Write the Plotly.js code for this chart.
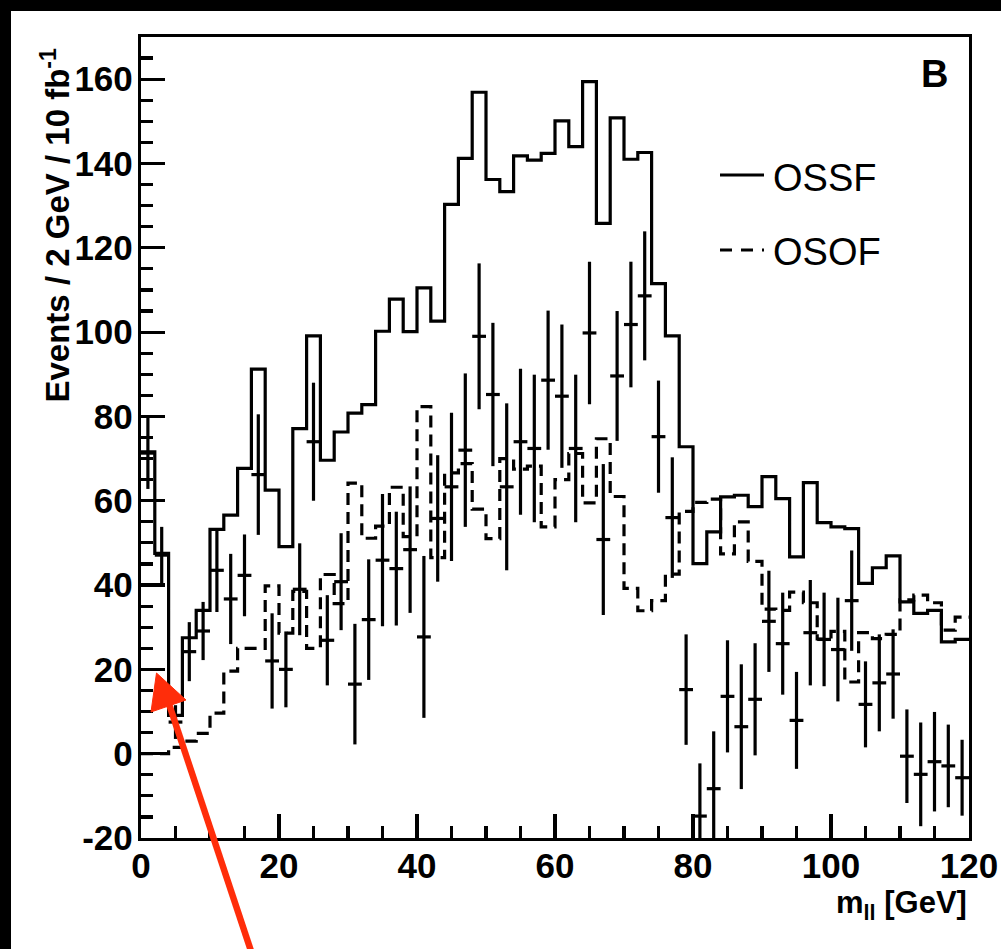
<!DOCTYPE html>
<html>
<head>
<meta charset="utf-8">
<script src="https://cdn.plot.ly/plotly-3.0.1.min.js"></script>
<style>
  html, body { margin: 0; padding: 0; background: #000; width: 1001px; height: 949px; overflow: hidden; }
  #chart { position: absolute; left: 11px; top: 11px; width: 990px; height: 938px; background: #fff; }
</style>
</head>
<body>
<div id="chart"></div>
<script>
// ---- data ----
// 60 bins of 2 GeV from 0 to 120 GeV
const binWidth = 2;
const nBins = 60;
const binCenters = Array.from({length: nBins}, (_, i) => binWidth * i + binWidth / 2);
const binLowEdges = Array.from({length: nBins}, (_, i) => binWidth * i);

// OSSF histogram (solid)
const ossf = [71.6, 47.5, 9.1, 27.5, 34.0, 53.2, 56.6, 67.7, 91.2, 62.5,
              49.1, 77.1, 99.1, 69.6, 76.3, 80.8, 82.8, 100.2, 107.8, 100.1,
              110.5, 102.6, 130.3, 141.2, 156.9, 136.2, 133.3, 141.8, 140.8, 142.4,
              150.1, 144.0, 159.4, 125.8, 150.8, 141.0, 142.6, 111.5, 99.1, 72.8,
              45.1, 52.6, 60.9, 61.3, 58.6, 65.7, 60.5, 46.7, 64.3, 54.8,
              53.8, 53.4, 40.4, 44.1, 46.9, 36.0, 33.3, 34.0, 26.5, 27.1];

// OSOF histogram (dashed)
const osof = [0.0, 0.0, 1.5, 3.0, 4.8, 9.6, 19.6, 25.0, 25.0, 39.8,
              28.6, 38.5, 25.0, 42.5, 35.6, 64.2, 51.1, 54.0, 63.2, 51.5,
              82.3, 46.5, 66.6, 68.8, 58.0, 51.0, 70.0, 67.5, 68.2, 53.8,
              65.0, 71.2, 59.5, 74.7, 61.0, 39.2, 33.9, 36.3, 42.6, 57.5,
              59.6, 60.4, 47.4, 55.0, 45.6, 34.3, 34.0, 38.3, 35.8, 27.2,
              29.0, 17.0, 28.7, 27.3, 28.3, 36.5, 37.6, 35.8, 29.3, 32.4];

// OSSF - OSOF points with errors
const diff = [71.3, 47.1, 7.5, 24.2, 29.1, 43.5, 36.7, 42.3, 66.2, 22.0,
              20.0, 39.0, 74.0, 26.9, 40.8, 16.5, 31.8, 45.9, 43.9, 48.4,
              27.7, 55.8, 63.3, 72.0, 99.0, 85.2, 63.3, 74.0, 72.4, 88.6,
              84.8, 72.4, 99.8, 50.8, 89.6, 101.8, 108.6, 75.2, 56.0, 15.2,
              -14.8, -8.3, 13.6, 6.4, 12.9, 31.4, 26.1, 7.9, 28.7, 27.1,
              24.7, 36.3, 11.7, 16.8, 18.9, -0.6, -4.9, -1.9, -2.9, -5.7];
const diffErr = [8.5, 6.7, 4.0, 7.0, 6.9, 9.9, 10.7, 9.7, 14.3, 11.3,
                 9.0, 10.9, 14.0, 10.7, 11.5, 14.3, 14.3, 15.7, 13.5, 15.0,
                 19.2, 15.0, 17.6, 18.2, 17.3, 17.0, 19.8, 17.3, 17.5, 16.5,
                 17.0, 17.5, 16.9, 17.9, 15.4, 14.9, 15.3, 13.3, 14.3, 13.1,
                 12.5, 13.6, 13.3, 14.8, 13.3, 12.0, 12.1, 11.5, 12.5, 11.1,
                 12.3, 11.9, 10.2, 11.5, 10.6, 11.1, 12.3, 11.8, 9.8, 9.0];

const xTickVals = [0, 20, 40, 60, 80, 100, 120];
const yTickVals = [-20, 0, 20, 40, 60, 80, 100, 120, 140, 160];
const legendLabels = ['OSSF', 'OSOF'];
const panelLabel = 'B';

// ---- build step outlines ----
function stepX() { return binLowEdges.concat([binLowEdges[nBins - 1] + binWidth]); }
function stepY(v) { return v.concat([v[v.length - 1]]); }

const LW = 3.2;
const traces = [
  { x: stepX(), y: stepY(ossf), type: 'scatter', mode: 'lines',
    line: { shape: 'hv', color: '#000', width: LW }, showlegend: false, hoverinfo: 'skip' },
  { x: stepX(), y: stepY(osof), type: 'scatter', mode: 'lines',
    line: { shape: 'hv', color: '#000', width: LW, dash: '12px,7px' }, showlegend: false, hoverinfo: 'skip' },
  { x: binCenters, y: diff, type: 'scatter', mode: 'markers',
    marker: { size: 1, color: '#000' },
    error_y: { type: 'data', array: diffErr, visible: true, color: '#000', thickness: LW, width: 0 },
    error_x: { type: 'constant', value: binWidth / 2, visible: true, color: '#000', thickness: LW, width: 0 },
    showlegend: false, hoverinfo: 'skip' }
];

// plot area in page pixels
const PL = 141, PR = 969, PT = 37, PB = 838;
const PX = px => (px - PL) / (PR - PL);
const PY = py => (PB - py) / (PB - PT);

const FONT = 'Liberation Sans, Arial, Helvetica, sans-serif';
const tickFont = { family: FONT, size: 35, color: '#000', weight: 'bold' };

const red = '#ff2d0a';
const shapes = [
  // legend samples
  { type: 'line', xref: 'paper', yref: 'paper', x0: PX(720), x1: PX(764), y0: PY(175), y1: PY(175),
    line: { color: '#000', width: LW } },
  { type: 'line', xref: 'paper', yref: 'paper', x0: PX(720), x1: PX(764), y0: PY(250), y1: PY(250),
    line: { color: '#000', width: LW, dash: '12px,9px' } },
  // red arrow
  { type: 'line', xref: 'paper', yref: 'paper', x0: PX(254), y0: PY(960), x1: PX(169), y1: PY(704),
    line: { color: red, width: 6.5 } },
  { type: 'path', xref: 'paper', yref: 'paper',
    path: 'M ' + PX(156.5) + ' ' + PY(673) + ' L ' + PX(151) + ' ' + PY(712) + ' L ' + PX(186) + ' ' + PY(700) + ' Z',
    fillcolor: red, line: { color: red, width: 1 } }
];

const annotations = [
  { text: 'Events / 2 GeV / 10 fb<sup>-1</sup>', xref: 'paper', yref: 'paper', x: 0, y: 1,
    xanchor: 'center', yanchor: 'top', xshift: 55 - PL, yshift: -(46 - PT), textangle: -90,
    showarrow: false, font: { family: FONT, size: 33, color: '#000', weight: 'bold' } },
  { text: 'm<sub>ll</sub> [GeV]', xref: 'paper', yref: 'paper', x: 1, y: 0,
    xanchor: 'right', yanchor: 'middle', xshift: 0, yshift: -(905 - PB),
    showarrow: false, font: { family: FONT, size: 31, color: '#000', weight: 'bold' } },
  { text: panelLabel, xref: 'paper', yref: 'paper', x: PX(934), y: PY(74),
    xanchor: 'center', yanchor: 'middle', showarrow: false,
    font: { family: FONT, size: 38, color: '#000', weight: 'bold' } },
  { text: legendLabels[0], xref: 'paper', yref: 'paper', x: PX(771), y: PY(178),
    xanchor: 'left', yanchor: 'middle', showarrow: false,
    font: { family: FONT, size: 38, color: '#000' } },
  { text: legendLabels[1], xref: 'paper', yref: 'paper', x: PX(771), y: PY(252),
    xanchor: 'left', yanchor: 'middle', showarrow: false,
    font: { family: FONT, size: 38, color: '#000' } }
];

const axisCommon = {
  showline: true, linecolor: '#000', linewidth: LW, mirror: true,
  ticks: 'inside', ticklen: 24, tickwidth: LW, tickcolor: '#000',
  showgrid: false, zeroline: false, tickfont: tickFont, fixedrange: true
};

const layout = {
  width: 990, height: 938,
  margin: { l: PL - 11, r: 1001 - PR, t: PT - 11, b: 949 - PB, pad: 0 },
  paper_bgcolor: '#fff', plot_bgcolor: '#fff',
  showlegend: false,
  xaxis: Object.assign({}, axisCommon, {
    range: [0, 120], tickmode: 'array', tickvals: xTickVals, ticktext: xTickVals.map(String),
    ticklabelstandoff: -5,
    minor: { dtick: 5, tick0: 0, ticks: 'inside', ticklen: 12, tickwidth: LW, tickcolor: '#000', showgrid: false }
  }),
  yaxis: Object.assign({}, axisCommon, {
    range: [-20, 170], tickmode: 'array', tickvals: yTickVals, ticktext: yTickVals.map(String),
    ticklabelstandoff: -2,
    minor: { dtick: 5, tick0: 0, ticks: 'inside', ticklen: 12, tickwidth: LW, tickcolor: '#000', showgrid: false }
  }),
  shapes: shapes,
  annotations: annotations
};

Plotly.newPlot('chart', traces, layout, { staticPlot: true, displayModeBar: false });
</script>
</body>
</html>
